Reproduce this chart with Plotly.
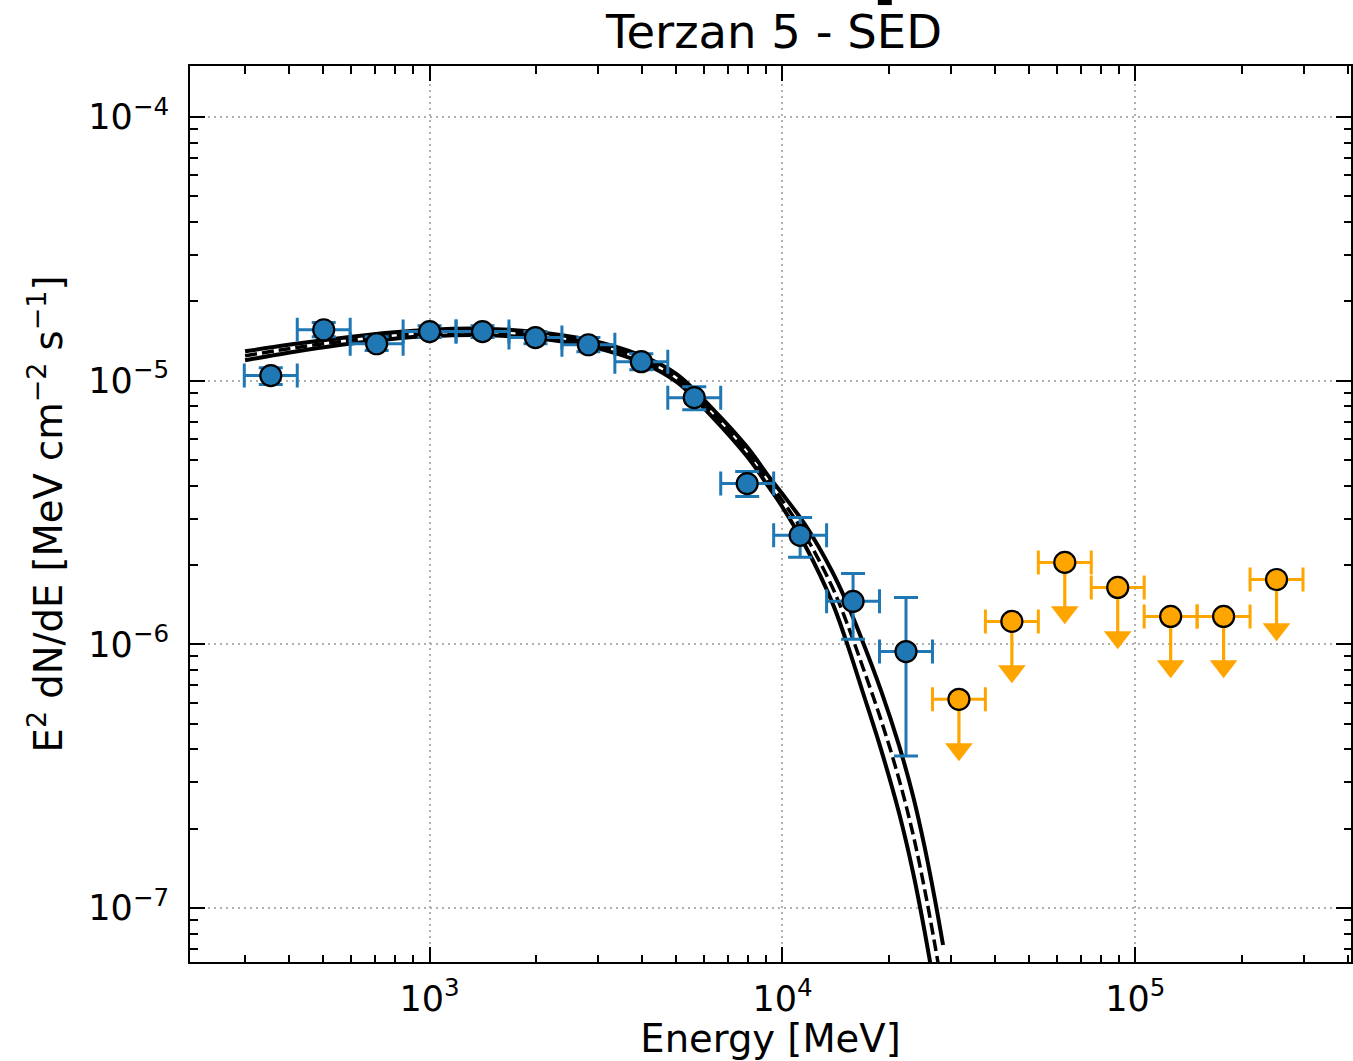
import plotly.graph_objects as go
import numpy as np

# ---------------- data ----------------
# energy bins [MeV]
bin_center = [354.8, 501.2, 707.9, 1000.0, 1412.5, 1995.3, 2818.4, 3981.1, 5623.4,
              7943.3, 11220.2, 15848.9, 22387.2, 31622.8, 44668.4, 63095.7, 89125.1,
              125892.5, 177827.9, 251188.6]
bin_low = [298.5, 421.7, 595.7, 841.4, 1188.5, 1678.8, 2371.4, 3349.7, 4731.5,
           6683.4, 9440.6, 13335.0, 18836.0, 26607.0, 37584.0, 53088.0, 74989.0,
           105925.0, 149624.0, 211349.0]
bin_high = [421.7, 595.7, 841.4, 1188.5, 1678.8, 2371.4, 3349.7, 4731.5, 6683.4,
            9440.6, 13335.0, 18836.0, 26607.0, 37584.0, 53088.0, 74989.0, 105925.0,
            149624.0, 211349.0, 298538.0]

# detected points (first 13 bins) E^2 dN/dE [MeV cm^-2 s^-1]
det_flux = [1.045e-5, 1.560e-5, 1.380e-5, 1.535e-5, 1.535e-5, 1.457e-5, 1.368e-5,
            1.180e-5, 8.62e-6, 4.07e-6, 2.59e-6, 1.456e-6, 9.39e-7]
det_flux_hi = [1.120e-5, 1.660e-5, 1.468e-5, 1.616e-5, 1.616e-5, 1.535e-5, 1.457e-5,
               1.265e-5, 9.48e-6, 4.52e-6, 3.03e-6, 1.858e-6, 1.507e-6]
det_flux_lo = [9.66e-6, 1.468e-5, 1.300e-5, 1.457e-5, 1.457e-5, 1.380e-5, 1.288e-5,
               1.101e-5, 7.76e-6, 3.64e-6, 2.14e-6, 1.045e-6, 3.77e-7]

# upper limits (last 7 bins)
ul_flux = [6.19e-7, 1.222e-6, 2.046e-6, 1.644e-6, 1.276e-6, 1.276e-6, 1.762e-6]

# best-fit model curve and its band half-width (dex)
model_energy = [300, 398, 562, 794, 1000, 1413, 1995, 2818, 3981, 5012, 6310, 7943,
                9162, 10000, 11641, 13804, 15136, 16827, 19055, 21380, 23442, 25293,
                27040, 28510]
model_flux = [1.242e-5, 1.321e-5, 1.409e-5, 1.483e-5, 1.517e-5, 1.531e-5, 1.489e-5,
              1.390e-5, 1.208e-5, 1.023e-5, 7.586e-6, 5.370e-6, 4.121e-6, 3.508e-6,
              2.570e-6, 1.660e-6, 1.230e-6, 8.318e-7, 5.129e-7, 3.090e-7, 1.905e-7,
              1.175e-7, 7.244e-8, 4.786e-8]
model_band_dex = [0.017, 0.015, 0.013, 0.012, 0.012, 0.012, 0.012, 0.012, 0.013, 0.015,
                  0.016, 0.018, 0.020, 0.025, 0.040, 0.058, 0.075, 0.095, 0.112, 0.128,
                  0.145, 0.160, 0.172, 0.180]

x_tick_vals = [1e3, 1e4, 1e5]
x_tick_text = ["10<sup>3</sup>", "10<sup>4</sup>", "10<sup>5</sup>"]
y_tick_vals = [1e-7, 1e-6, 1e-5, 1e-4]
y_tick_text = ["10<sup>\u22127</sup>", "10<sup>\u22126</sup>", "10<sup>\u22125</sup>",
               "10<sup>\u22124</sup>"]

# ---------------- styles ----------------
BLUE = "#1f77b4"
ORANGE = "#ffa500"
ARROW_FACTOR = 0.647   # where the arrow head sits below an upper limit
FONT = "DejaVu Sans"

n_det = len(det_flux)
E_det = np.array(bin_center[:n_det])
E_ul = np.array(bin_center[n_det:])
lo_det = np.array(bin_low[:n_det]); hi_det = np.array(bin_high[:n_det])
lo_ul = np.array(bin_low[n_det:]); hi_ul = np.array(bin_high[n_det:])
f_det = np.array(det_flux)
f_ul = np.array(ul_flux)

mE = np.array(model_energy)
mF = np.array(model_flux)
mW = np.array(model_band_dex)
m_lower = mF * 10 ** (-mW)
m_upper = mF * 10 ** (mW)

fig = go.Figure()

# band lower edge
fig.add_trace(go.Scatter(x=mE, y=m_lower, mode="lines",
                         line=dict(color="black", width=4, shape="spline"),
                         hoverinfo="skip"))
# band upper edge with white fill
fig.add_trace(go.Scatter(x=mE, y=m_upper, mode="lines", fill="tonexty",
                         fillcolor="white",
                         line=dict(color="black", width=4, shape="spline"),
                         hoverinfo="skip"))
# centre dashed line
fig.add_trace(go.Scatter(x=mE, y=mF, mode="lines",
                         line=dict(color="black", width=3.5, shape="spline",
                                   dash="12px,5px"),
                         hoverinfo="skip"))

# detected points
fig.add_trace(go.Scatter(
    x=E_det, y=f_det, mode="markers",
    marker=dict(symbol="circle", size=21, color=BLUE,
                line=dict(color="black", width=2.2)),
    error_x=dict(type="data", symmetric=False, array=hi_det - E_det,
                 arrayminus=E_det - lo_det, color=BLUE, thickness=3, width=12),
    error_y=dict(type="data", symmetric=False,
                 array=np.array(det_flux_hi) - f_det,
                 arrayminus=f_det - np.array(det_flux_lo),
                 color=BLUE, thickness=3, width=12),
))

# upper limits
fig.add_trace(go.Scatter(
    x=E_ul, y=f_ul, mode="markers",
    marker=dict(symbol="circle", size=21, color=ORANGE,
                line=dict(color="black", width=2.2)),
    error_x=dict(type="data", symmetric=False, array=hi_ul - E_ul,
                 arrayminus=E_ul - lo_ul, color=ORANGE, thickness=3, width=12),
    error_y=dict(type="data", symmetric=False, array=np.zeros(len(f_ul)),
                 arrayminus=f_ul * (1 - ARROW_FACTOR),
                 color=ORANGE, thickness=3.2, width=0),
))
fig.add_trace(go.Scatter(
    x=E_ul, y=f_ul * ARROW_FACTOR, mode="markers",
    marker=dict(symbol="triangle-down", size=24, color=ORANGE,
                line=dict(width=0)),
    hoverinfo="skip",
))

x_minor = [v * 10 ** d for d in range(2, 6) for v in range(2, 10)]
y_minor = [v * 10.0 ** d for d in range(-8, -3) for v in range(2, 10)]

axis_common = dict(
    type="log", showline=True, linecolor="black", linewidth=2,
    mirror="allticks", ticks="inside", ticklen=15, tickwidth=2.2,
    tickcolor="black", showgrid=True, gridcolor="#b0b0b0", gridwidth=1.5,
    griddash="2px,4px", zeroline=False, tickfont=dict(size=35, family=FONT),
)

fig.update_xaxes(
    **axis_common, range=[2.3211, 5.611],
    tickmode="array", tickvals=x_tick_vals, ticktext=x_tick_text,
    ticklabelstandoff=5,
    minor=dict(ticks="inside", ticklen=7.5, tickwidth=1.8, tickcolor="black",
               tickmode="array", tickvals=x_minor, showgrid=False),
    title=dict(text="Energy [MeV]", font=dict(size=38.5, family=FONT), standoff=15),
)
fig.update_yaxes(
    **axis_common, range=[-7.2045, -3.8068],
    tickmode="array", tickvals=y_tick_vals, ticktext=y_tick_text,
    ticklabelstandoff=12,
    minor=dict(ticks="inside", ticklen=7.5, tickwidth=1.8, tickcolor="black",
               tickmode="array", tickvals=y_minor, showgrid=False),
    title=dict(text="E<sup>2</sup> dN/dE [MeV cm<sup>\u22122</sup> s<sup>\u22121</sup>]",
               font=dict(size=38.5, family=FONT), standoff=14),
)

fig.update_layout(
    width=1353, height=1061,
    margin=dict(l=190, r=0, t=66, b=98),
    paper_bgcolor="white", plot_bgcolor="white",
    showlegend=False,
    font=dict(family=FONT, color="black", size=33),
    title=dict(text="Terzan 5 - SED", font=dict(size=46.5, family=FONT, color="black"),
               x=774 / 1353, xanchor="center", xref="container",
               y=1 - 32 / 1061, yanchor="middle", yref="container"),
    shapes=[dict(type="rect", xref="paper", yref="paper",
                 x0=(879 - 190) / 1163, x1=(893 - 190) / 1163,
                 y0=(963 - 5) / 897, y1=(963 + 1) / 897,
                 fillcolor="black", line=dict(width=0))],
)

fig.write_html("out.html")
